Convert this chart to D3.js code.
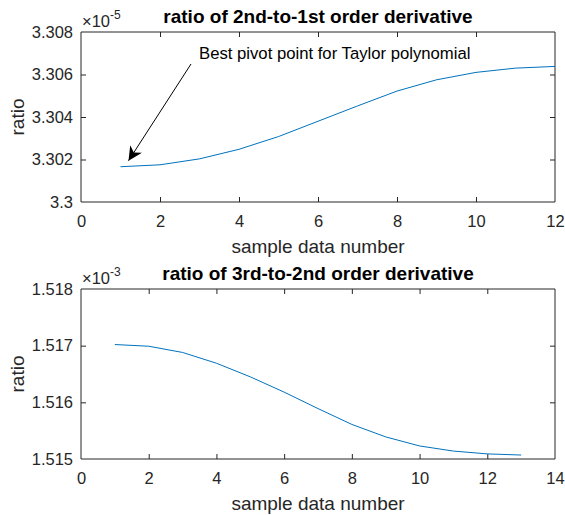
<!DOCTYPE html>
<html>
<head>
<meta charset="utf-8">
<script src="https://cdn.jsdelivr.net/npm/d3@7"></script>
<style>
  body { margin: 0; background: #fff; }
  svg { font-family: "Liberation Sans", Arial, sans-serif; }
  .axis text { fill: #262626; font-size: 16.5px; }
  .axis path, .axis line { stroke: #262626; }
</style>
</head>
<body>
<script>
// top panel: ratio of 2nd-to-1st order derivative (values in units of 1e-5)
var topX = [1, 2, 3, 4, 5, 6, 7, 8, 9, 10, 11, 12];
var topY = [3.30166, 3.30175, 3.30203, 3.30248, 3.30308, 3.30380, 3.30452, 3.30522, 3.30575, 3.30610, 3.30630, 3.30638];
var topXTicks = [0, 2, 4, 6, 8, 10, 12];
var topYTicks = [3.3, 3.302, 3.304, 3.306, 3.308];

// bottom panel: ratio of 3rd-to-2nd order derivative (values in units of 1e-3)
var botX = [1, 2, 3, 4, 5, 6, 7, 8, 9, 10, 11, 12, 13];
var botY = [1.51702, 1.51699, 1.51688, 1.51669, 1.51645, 1.51618, 1.51589, 1.51561, 1.51539, 1.51523, 1.51514, 1.51509, 1.51507];
var botXTicks = [0, 2, 4, 6, 8, 10, 12, 14];
var botYTicks = [1.515, 1.516, 1.517, 1.518];

var W = 565, H = 515;
var svg = d3.select('body').append('svg')
    .attr('width', W)
    .attr('height', H);

svg.append('defs').append('marker')
    .attr('id', 'arrow')
    .attr('viewBox', '0 0 10 10')
    .attr('refX', 10).attr('refY', 5)
    .attr('markerWidth', 14).attr('markerHeight', 14)
    .attr('markerUnits', 'userSpaceOnUse')
    .attr('orient', 'auto')
    .append('path')
    .attr('d', 'M0,0 L10,5 L0,10 L3,5 Z')
    .attr('fill', '#000');

function panel(opt) {
    var left = 81, right = 555;
    var x = d3.scaleLinear().domain(opt.xDomain).range([left, right]);
    var y = d3.scaleLinear().domain(opt.yDomain).range([opt.bottom, opt.top]);
    var g = svg.append('g');
    var tick = 5;

    // box and ticks on all four sides
    g.append('g').attr('class', 'axis')
        .attr('transform', 'translate(0,' + opt.bottom + ')')
        .call(d3.axisBottom(x).tickValues(opt.xTicks).tickSize(-tick).tickPadding(13).tickFormat(d3.format('d')))
        .call(s => s.select('.domain').attr('d', 'M' + left + ',0H' + right));
    g.append('g').attr('class', 'axis')
        .attr('transform', 'translate(0,' + opt.top + ')')
        .call(d3.axisTop(x).tickValues(opt.xTicks).tickSize(-tick).tickFormat(''))
        .call(s => s.select('.domain').attr('d', 'M' + left + ',0H' + right));
    g.append('g').attr('class', 'axis')
        .attr('transform', 'translate(' + left + ',0)')
        .call(d3.axisLeft(y).tickValues(opt.yTicks).tickSize(-tick).tickPadding(8).tickFormat(opt.yFormat))
        .call(s => s.select('.domain').attr('d', 'M0,' + opt.bottom + 'V' + opt.top));
    g.append('g').attr('class', 'axis')
        .attr('transform', 'translate(' + right + ',0)')
        .call(d3.axisRight(y).tickValues(opt.yTicks).tickSize(-tick).tickFormat(''))
        .call(s => s.select('.domain').attr('d', 'M0,' + opt.bottom + 'V' + opt.top));

    // hide the box-edge ticks like MATLAB
    g.selectAll('.tick line').filter(function (d) {
        return d === opt.xDomain[0] || d === opt.xDomain[1] || d === opt.yDomain[0] || d === opt.yDomain[1];
    }).remove();

    var line = d3.line().x(d => x(d[0])).y(d => y(d[1]));
    g.append('path')
        .datum(opt.xs.map((v, i) => [v, opt.ys[i]]))
        .attr('d', line)
        .attr('fill', 'none')
        .attr('stroke', '#0072BD')
        .attr('stroke-width', 1);

    // title
    g.append('text')
        .attr('x', (left + right) / 2)
        .attr('y', opt.top - 9)
        .attr('text-anchor', 'middle')
        .attr('font-weight', 'bold')
        .attr('font-size', 19)
        .attr('fill', '#000')
        .text(opt.title);

    // exponent label
    var ex = g.append('text')
        .attr('x', left + 1)
        .attr('y', opt.top - 5)
        .attr('font-size', 16.5)
        .attr('fill', '#262626');
    ex.append('tspan').text('\u00d710');
    ex.append('tspan').attr('font-size', 12).attr('dy', -8).text(opt.exp);

    // axis labels
    g.append('text')
        .attr('x', (left + right) / 2)
        .attr('y', opt.bottom + 51)
        .attr('text-anchor', 'middle')
        .attr('font-size', 19)
        .attr('fill', '#262626')
        .text('sample data number');
    g.append('text')
        .attr('transform', 'translate(24,' + ((opt.top + opt.bottom) / 2) + ') rotate(-90)')
        .attr('text-anchor', 'middle')
        .attr('font-size', 19)
        .attr('fill', '#262626')
        .text('ratio');

    return { x: x, y: y, g: g };
}

var p1 = panel({
    xDomain: [0, 12], yDomain: [3.3, 3.308], top: 32, bottom: 202,
    xTicks: topXTicks, yTicks: topYTicks, xs: topX, ys: topY,
    yFormat: d => d === 3.3 ? '3.3' : d3.format('.3f')(d),
    title: 'ratio of 2nd-to-1st order derivative', exp: '-5'
});

var p2 = panel({
    xDomain: [0, 14], yDomain: [1.515, 1.518], top: 289, bottom: 459,
    xTicks: botXTicks, yTicks: botYTicks, xs: botX, ys: botY,
    yFormat: d3.format('.3f'),
    title: 'ratio of 3rd-to-2nd order derivative', exp: '-3'
});

// annotation arrow pointing to first sample
p1.g.append('line')
    .attr('x1', 191).attr('y1', 64)
    .attr('x2', p1.x(topX[0]) + 8).attr('y2', p1.y(topY[0]) - 6)
    .attr('stroke', '#000')
    .attr('stroke-width', 1)
    .attr('marker-end', 'url(#arrow)');
p1.g.append('text')
    .attr('x', 199).attr('y', 59)
    .attr('font-size', 16.7)
    .attr('fill', '#000')
    .text('Best pivot point for Taylor polynomial');
</script>
</body>
</html>
